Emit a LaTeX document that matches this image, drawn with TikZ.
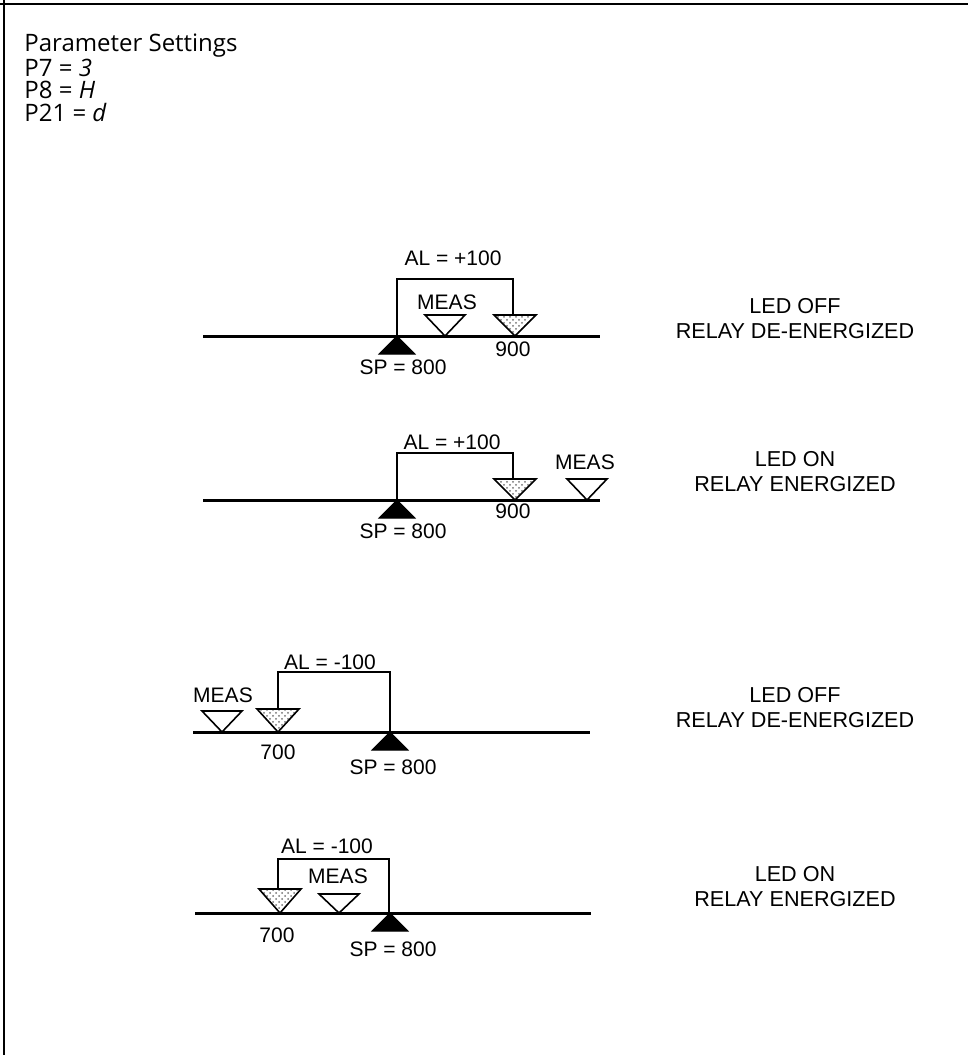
\documentclass[tikz,border=0pt]{standalone}
\usepackage{fontspec}
\setmainfont{Liberation Sans}
\newfontfamily\hdrfont{Open Sans}
\usetikzlibrary{patterns,calc}

\begin{document}
\begin{tikzpicture}[x=0.5pt,y=-0.5pt,line join=miter,
        axis/.style={line width=1.5pt},
        bracket/.style={line width=0.7pt},
        setpt/.style={fill=black,draw=black,line width=0.5pt},
        measpt/.style={fill=white,draw=black,line width=0.8pt},
        alarmpt/.style={pattern=crosshatch dots,pattern color=black!55,draw=black,line width=0.8pt},
        lbl/.style={font=\fontsize{10.5}{12}\selectfont,inner sep=0pt},
        state/.style={font=\fontsize{10.8}{12.5}\selectfont,align=center,inner sep=0pt},
        hdr/.style={font=\hdrfont\fontsize{12}{11.3}\selectfont,anchor=north west,
                    align=left,inner sep=0pt}]

  \useasboundingbox (0,0) rectangle (968,1055);
  \draw[line width=1pt] (0,4) -- (968,4);
  \draw[line width=1pt] (4,0) -- (4,1055);

  % parameter header
  \node[hdr] (params) at (24,33)
    {Parameter Settings\\P7 = \textit{3}\\P8 = \textit{H}\\P21 = \textit{d}};

  % case 1
  \coordinate (la) at (203,336);
  \coordinate (ra) at (600,336);
  \coordinate (spa) at (397,336);
  \coordinate (ma) at (445,336);
  \coordinate (ala) at (515,336);
  \draw[axis] (la) -- (ra);
  \filldraw[setpt] (spa) -- ++(-18,18) -- ++(36,0) -- cycle;
  \filldraw[measpt] (ma) -- ++(-20,-21) -- ++(40,0) -- cycle;
  \filldraw[alarmpt] (ala) -- ++(-21,-21) -- ++(42,0) -- cycle;
  \draw[bracket] (spa) -- ++(0,-57) -| ($(ala)+(-2,-21)$);
  \node[lbl] (ala lbl) at (453,258) {AL = +100};
  \node[lbl] (ma lbl) at (447,302) {MEAS};
  \node[lbl] (ala val) at (513,349) {900};
  \node[lbl] (spa lbl) at (403,367) {SP = 800};
  \node[state] (sta) at (795,319) {LED OFF\\RELAY DE-ENERGIZED};

  % case 2
  \coordinate (lb) at (203,500);
  \coordinate (rb) at (600,500);
  \coordinate (spb) at (397,500);
  \coordinate (mb) at (587,500);
  \coordinate (alb) at (515,500);
  \draw[axis] (lb) -- (rb);
  \filldraw[setpt] (spb) -- ++(-18,18) -- ++(36,0) -- cycle;
  \filldraw[measpt] (mb) -- ++(-20,-21) -- ++(40,0) -- cycle;
  \filldraw[alarmpt] (alb) -- ++(-21,-21) -- ++(42,0) -- cycle;
  \draw[bracket] (spb) -- ++(0,-47) -| ($(alb)+(-2,-21)$);
  \node[lbl] (alb lbl) at (452,442) {AL = +100};
  \node[lbl] (mb lbl) at (585,462) {MEAS};
  \node[lbl] (alb val) at (513,511) {900};
  \node[lbl] (spb lbl) at (403,531) {SP = 800};
  \node[state] (stb) at (795,472) {LED ON\\RELAY ENERGIZED};

  % case 3
  \coordinate (lc) at (193,732);
  \coordinate (rc) at (590,732);
  \coordinate (spc) at (390,732);
  \coordinate (mc) at (222,732);
  \coordinate (alc) at (278,732);
  \draw[axis] (lc) -- (rc);
  \filldraw[setpt] (spc) -- ++(-18,18) -- ++(36,0) -- cycle;
  \filldraw[measpt] (mc) -- ++(-20,-21) -- ++(40,0) -- cycle;
  \filldraw[alarmpt] (alc) -- ++(-21,-23) -- ++(42,0) -- cycle;
  \draw[bracket] (spc) -- ++(0,-60) -| ($(alc)+(0,-23)$);
  \node[lbl] (alc lbl) at (330,662) {AL = -100};
  \node[lbl] (mc lbl) at (223,695) {MEAS};
  \node[lbl] (alc val) at (278,752) {700};
  \node[lbl] (spc lbl) at (393,767) {SP = 800};
  \node[state] (stc) at (795,708) {LED OFF\\RELAY DE-ENERGIZED};

  % case 4
  \coordinate (ld) at (195,913);
  \coordinate (rd) at (591,913);
  \coordinate (spd) at (390,913);
  \coordinate (md) at (339,913);
  \coordinate (ald) at (280,913);
  \draw[axis] (ld) -- (rd);
  \filldraw[setpt] (spd) -- ++(-18,18) -- ++(36,0) -- cycle;
  \filldraw[measpt] (md) -- ++(-20,-19) -- ++(40,0) -- cycle;
  \filldraw[alarmpt] (ald) -- ++(-21,-24) -- ++(42,0) -- cycle;
  \draw[bracket] ($(spd)+(-1,0)$) -- ++(0,-54) -| ($(ald)+(-2,-24)$);
  \node[lbl] (ald lbl) at (327,846) {AL = -100};
  \node[lbl] (md lbl) at (338,876) {MEAS};
  \node[lbl] (ald val) at (277,935) {700};
  \node[lbl] (spd lbl) at (393,949) {SP = 800};
  \node[state] (std) at (795,887) {LED ON\\RELAY ENERGIZED};

\end{tikzpicture}
\end{document}
